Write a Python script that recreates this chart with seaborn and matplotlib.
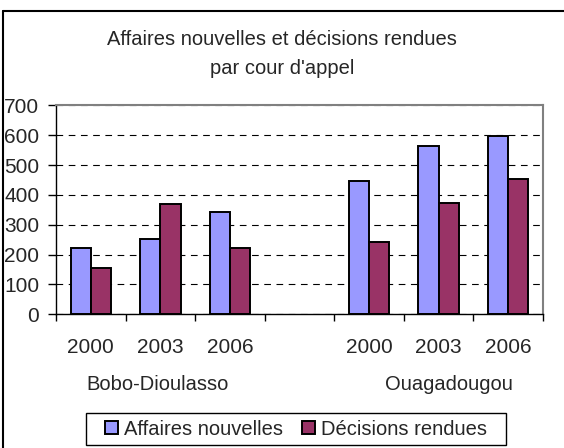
import matplotlib
matplotlib.use("Agg")
import matplotlib.pyplot as plt
import matplotlib.transforms as mtransforms
from matplotlib.lines import Line2D
from matplotlib.patches import Patch, Rectangle
import pandas as pd
import seaborn as sns

# data
cities = ["Bobo-Dioulasso", "Ouagadougou"]
years = ["2000", "2003", "2006"]
series = ["Affaires nouvelles", "Décisions rendues"]
affaires_nouvelles = [221, 252, 342, 446, 565, 597]
decisions_rendues = [154, 368, 223, 243, 373, 454]
colors = ["#9999FF", "#993366"]

slots = ["{} {}".format(c, y) for c in cities for y in years]
order = slots[:3] + ["gap"] + slots[3:]  # empty slot between the two courts

df = pd.DataFrame({
    "slot": slots * 2,
    "serie": [series[0]] * len(slots) + [series[1]] * len(slots),
    "value": affaires_nouvelles + decisions_rendues,
})

sns.set_theme(style="white")
plt.rcParams["font.family"] = ["Liberation Sans", "DejaVu Sans"]
FS = 14.5

W, H = 564, 448
fig = plt.figure(figsize=(W / 100, H / 100), dpi=100)
ax = fig.add_axes([56 / W, 1 - 314.3 / H, (543 - 56) / W, (314.3 - 105.3) / H])

sns.barplot(data=df, x="slot", y="value", hue="serie", order=order, hue_order=series,
            palette=colors, saturation=1, width=0.58, edgecolor="black", linewidth=1.4,
            legend=False, ax=ax)

ax.set_xlim(-0.5, len(order) - 0.5)
ax.set_ylim(0, 700)
ax.set_yticks(range(0, 701, 100))
ax.tick_params(axis="y", labelsize=FS + 0.5, length=6, width=1, color="black", pad=6, left=True)
ax.set_xlabel("")
ax.set_ylabel("")

# year labels at slot centres, tick marks at slot boundaries
centres = [i for i, s in enumerate(order) if s != "gap"]
ax.set_xticks(centres)
ax.set_xticklabels(years * 2)
ax.tick_params(axis="x", which="major", length=0, labelsize=FS + 0.5, pad=17)
ax.set_xticks([i - 0.5 for i in range(len(order) + 1)], minor=True)
ax.tick_params(axis="x", which="minor", length=5, width=1, color="black", direction="out", bottom=True)

ax.yaxis.grid(True, linestyle=(0, (6, 5)), color="black", linewidth=0.8)
ax.set_axisbelow(True)
for side in ["top", "right"]:
    ax.spines[side].set_color("#808080")
    ax.spines[side].set_linewidth(1.5)
for side in ["left", "bottom"]:
    ax.spines[side].set_color("black")
    ax.spines[side].set_linewidth(1)

# court names under the years
trans = mtransforms.blended_transform_factory(ax.transData, fig.transFigure)
ax.text(0.96, 1 - 390 / H, cities[0], transform=trans, ha="center", va="baseline", fontsize=FS)
ax.text(5.15, 1 - 390 / H, cities[1], transform=trans, ha="center", va="baseline", fontsize=FS)

fig.text(282 / W, 1 - 45 / H, "Affaires nouvelles et décisions rendues", ha="center", va="baseline", fontsize=FS)
fig.text(282 / W, 1 - 74 / H, "par cour d'appel", ha="center", va="baseline", fontsize=FS)

# legend: frameless entries inside a drawn box
handles = [Patch(facecolor=c, edgecolor="black", linewidth=1.4) for c in colors]
fig.legend(handles, series, loc="center", bbox_to_anchor=(296 / W, 1 - 429 / H), ncol=2,
           frameon=False, fontsize=FS, handlelength=0.65, handleheight=0.65,
           handletextpad=0.3, columnspacing=0.9, borderpad=0, borderaxespad=0)
fig.add_artist(Rectangle((86 / W, 1 - 445 / H), 420 / W, 32 / H, facecolor="none",
                         edgecolor="black", linewidth=1, transform=fig.transFigure))

# outer chart frame (only left and top edges visible)
fig.add_artist(Line2D([3 / W, 3 / W], [0, 1 - 11 / H], color="black", linewidth=1.5, transform=fig.transFigure))
fig.add_artist(Line2D([3 / W, 1], [1 - 11 / H, 1 - 11 / H], color="black", linewidth=1.5, transform=fig.transFigure))

fig.savefig("out.png", dpi=100)
